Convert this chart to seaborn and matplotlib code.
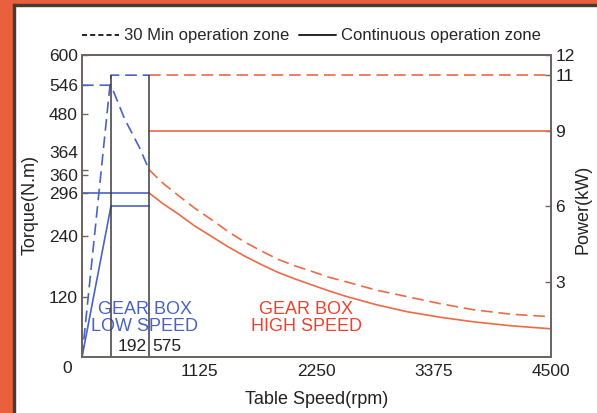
import numpy as np
import seaborn as sns
import matplotlib.pyplot as plt
from matplotlib.lines import Line2D
from matplotlib.patches import Rectangle

# gear box low speed: torque (N.m) and power (kW) against table speed (rpm)
low_torque_30min_rpm = [0, 192, 330, 480, 575]
low_torque_30min_nm = [546, 546, 470, 410, 364]
low_torque_cont_rpm = [0, 575]
low_torque_cont_nm = [296, 296]

low_power_rpm = [0, 192, 575]
low_power_30min_kw = [0, 11, 11]
low_power_cont_kw = [0, 6, 6]

# gear box high speed
high_rpm = [575, 728, 892, 1078, 1247, 1401, 1564, 1727, 1881, 2044,
			2207, 2360, 2524, 2821, 3118, 3435, 3752, 4116, 4500]
high_torque_30min_nm = [364, 330, 293, 276, 261, 246, 228, 210, 194, 181,
						170, 159, 150, 133, 120, 106, 94, 85, 80]
high_torque_cont_nm = [296, 282, 269, 253, 239, 219, 200, 183, 168, 155,
					   143, 132, 121, 104, 90, 79, 70, 62, 56]

high_power_rpm = [575, 4500]
high_power_30min_kw = [11, 11]
high_power_cont_kw = [9, 9]

# speed change points
shift_rpm = [192, 575]

# axis ticks
speed_ticks = [1125, 2250, 3375, 4500]
torque_ticks = [120, 240, 296, 360, 364, 480, 546, 600]
power_ticks = [3, 6, 9, 11, 12]

# the printed chart uses schematic axes: value -> drawn position anchors
speed_anchor = [-1e4, 0, 192, 575, 1125, 1e6]
speed_drawn = [-1e4, 0, 278, 643, 1125, 1e6]
torque_anchor = [-1e4, 0, 240, 296, 360, 364, 480, 546, 600, 1e5]
torque_drawn = [-1e4, 0, 240, 326, 362, 372, 482, 540, 600, 1e5]
power_anchor = [-1e3, 0, 9, 11, 12, 1e3]
power_drawn = [-1e3, 0, 9, 11.2, 12, 1e3]

BLUE = '#4a62c6'
ORANGE = '#ee6a45'
RED = '#f0402c'
FRAME = '#6c6461'
TEXT = '#222222'
DASH = (0, (7, 3.5))


def makeScale( values, drawn ):

	"""
	piecewise linear forward / inverse functions for a schematic axis
	"""

	fwd = lambda v: np.interp( v, values, drawn )
	inv = lambda d: np.interp( d, drawn, values )
	return fwd, inv


def plotLine( ax, x, y, color, dashed ):

	"""
	draw one operation zone line
	"""

	kwargs = { 'linestyle': DASH } if dashed else {}
	sns.lineplot( x=x, y=y, ax=ax, color=color, linewidth=1.2,
				  estimator=None, sort=False, legend=False, **kwargs )


def main():

	"""
	main path of execution
	"""

	sns.set_theme( style='white' )
	plt.rcParams['font.family'] = ['Liberation Sans', 'DejaVu Sans']

	fig = plt.figure( figsize=(5.97, 4.13), dpi=100 )
	ax = fig.add_axes( [ 0.1374, 0.1356, 0.7856, 0.7312 ] )
	ax2 = ax.twinx()

	# torque curves
	plotLine( ax, low_torque_30min_rpm, low_torque_30min_nm, BLUE, True )
	plotLine( ax, low_torque_cont_rpm, low_torque_cont_nm, BLUE, False )
	plotLine( ax, high_rpm, high_torque_30min_nm, ORANGE, True )
	plotLine( ax, high_rpm, high_torque_cont_nm, ORANGE, False )

	# power curves
	plotLine( ax2, low_power_rpm, low_power_30min_kw, BLUE, True )
	plotLine( ax2, low_power_rpm, low_power_cont_kw, BLUE, False )
	plotLine( ax2, high_power_rpm, high_power_30min_kw, ORANGE, True )
	plotLine( ax2, high_power_rpm, high_power_cont_kw, ORANGE, False )

	# gear change markers
	ax2.vlines( shift_rpm, 0, low_power_30min_kw[ -1 ], color='#3a3a3a', linewidth=1.1 )

	# schematic scales
	ax.set_xscale( 'function', functions=makeScale( speed_anchor, speed_drawn ) )
	ax.set_yscale( 'function', functions=makeScale( torque_anchor, torque_drawn ) )
	ax2.set_yscale( 'function', functions=makeScale( power_anchor, power_drawn ) )
	ax.set_xlim( 0, 4500 )
	ax.set_ylim( 0, 600 )
	ax2.set_ylim( 0, 12 )

	# ticks
	ax.set_xticks( speed_ticks )
	ax.set_xticklabels( [ str( t ) for t in speed_ticks ] )
	ax.set_yticks( torque_ticks )
	ax.set_yticklabels( [ '' if t == 364 else str( t ) for t in torque_ticks ] )
	ax2.set_yticks( power_ticks )
	ax2.set_yticklabels( [ str( t ) for t in power_ticks ] )
	ax.minorticks_off()
	ax2.minorticks_off()

	for a in [ ax, ax2 ]:
		a.tick_params( direction='in', length=4, width=1, color=FRAME,
					   labelsize=12.5, labelcolor=TEXT, pad=3 )
		for s in a.spines.values():
			s.set_color( FRAME )
			s.set_linewidth( 1.3 )
	ax.tick_params( axis='x', pad=5 )

	# labels squeezed next to their ticks
	ax.annotate( '364', xy=(0, 364), xycoords=('axes fraction', 'data'),
				 xytext=(-3, 12), textcoords='offset points', ha='right', va='center',
				 fontsize=12.5, color=TEXT )
	ax.annotate( '0', xy=(0, 0), xytext=(-11, -8), textcoords='offset points',
				 ha='center', va='center', fontsize=12.5, color=TEXT )
	ax.annotate( '192', xy=(shift_rpm[ 1 ], 0), xytext=(-2, 2), textcoords='offset points',
				 ha='right', va='bottom', fontsize=12.5, color=TEXT )
	ax.annotate( '575', xy=(shift_rpm[ 1 ], 0), xytext=(2, 2), textcoords='offset points',
				 ha='left', va='bottom', fontsize=12.5, color=TEXT )

	# gear box captions
	ax.text( 0.134, 0.13, 'GEAR BOX\nLOW SPEED', transform=ax.transAxes, color=BLUE,
			 ha='center', va='center', fontsize=13, linespacing=1.0 )
	ax.text( 0.478, 0.13, 'GEAR BOX\nHIGH SPEED', transform=ax.transAxes, color=RED,
			 ha='center', va='center', fontsize=13, linespacing=1.0 )

	# axis titles
	ax.set_xlabel( 'Table Speed(rpm)', fontsize=13, color=TEXT )
	ax.set_ylabel( 'Torque(N.m)', fontsize=13, color=TEXT )
	ax2.set_ylabel( 'Power(kW)', fontsize=13, color=TEXT )
	ax.xaxis.set_label_coords( 0.5, -0.14 )
	ax.xaxis.label.set_va( 'center' )
	ax.yaxis.set_label_coords( -0.111, 0.503 )
	ax.yaxis.label.set_va( 'center' )
	ax2.yaxis.set_label_coords( 1.068, 0.49 )
	ax2.yaxis.label.set_va( 'center' )

	# legend
	handles = [ Line2D( [], [], color=TEXT, linewidth=1.4, linestyle=(0, (2.6, 1.6)) ),
				Line2D( [], [], color=TEXT, linewidth=1.4 ) ]
	fig.legend( handles, [ '30 Min operation zone', 'Continuous operation zone' ],
				loc='center', bbox_to_anchor=(0.522, 0.913), ncol=2, frameon=False,
				fontsize=12, handlelength=2.2, handletextpad=0.3, columnspacing=0.6 )

	# orange page border with a thin dark edge
	fig.patches.append( Rectangle( (0, 0), 13 / 597, 1, transform=fig.transFigure,
								   color='#e8603c', zorder=0 ) )
	fig.patches.append( Rectangle( (0, 1 - 4 / 413), 1, 4 / 413, transform=fig.transFigure,
								   color='#e8603c', zorder=0 ) )
	fig.patches.append( Rectangle( (13 / 597, 0), 1.5 / 597, 1 - 4 / 413, transform=fig.transFigure,
								   color='#4a3a34', zorder=0 ) )
	fig.patches.append( Rectangle( (13 / 597, 1 - 5.5 / 413), 1, 1.5 / 413, transform=fig.transFigure,
								   color='#4a3a34', zorder=0 ) )

	fig.savefig( 'out.png', dpi=100 )
	return


# execute main
if __name__ == '__main__':
	main()
